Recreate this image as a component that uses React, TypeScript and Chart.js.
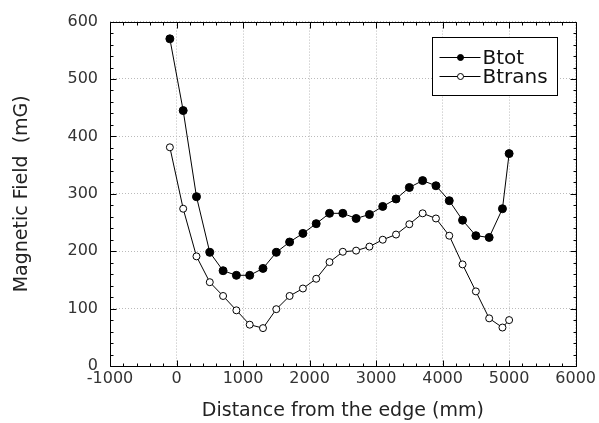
import React, { useEffect, useRef } from "react";
import { Chart, registerables } from "chart.js";

Chart.register(...registerables);

// ---- data ----
const distances = [-100, 100, 300, 500, 700, 900, 1100, 1300, 1500, 1700, 1900, 2100, 2300, 2500, 2700, 2900, 3100, 3300, 3500, 3700, 3900, 4100, 4300, 4500, 4700, 4900, 5000];
const btot = [570, 445, 295, 198, 166, 158, 158, 170, 198, 216, 231, 248, 266, 266, 257, 264, 278, 291, 311, 323, 314, 288, 254, 227, 224, 274, 370];
const btrans = [381, 274, 191, 146, 122, 97, 72, 66, 99, 122, 135, 152, 181, 199, 201, 208, 220, 229, 247, 266, 257, 227, 177, 130, 83, 67, 80];
const seriesNames = ["Btot", "Btrans"];
const xRange = [-1000, 6000];
const xStep = 1000;
const xMinorStep = 200;
const yRange = [0, 600];
const yStep = 100;
const yMinorStep = 20;
const xTitle = "Distance from the edge (mm)";
const yTitle = "Magnetic Field  (mG)";

const FONT = "'DejaVu Sans', sans-serif";

const framePlugin = {
  id: "frameTicks",
  afterDraw(chart: any) {
    const { ctx, chartArea } = chart;
    const { left, right, top, bottom } = chartArea;
    const xs = chart.scales.x;
    const ys = chart.scales.y;
    ctx.save();
    ctx.strokeStyle = "#000";
    ctx.lineWidth = 1;
    ctx.setLineDash([]);
    const L = Math.round(left) + 0.5;
    const R = Math.round(right) + 0.5;
    const T = Math.round(top) + 0.5;
    const B = Math.round(bottom) + 0.5;
    ctx.beginPath();
    ctx.rect(L, T, R - L, B - T);
    ctx.stroke();
    ctx.beginPath();
    const nx = Math.round((xRange[1] - xRange[0]) / xMinorStep);
    for (let i = 0; i <= nx; i++) {
      const v = xRange[0] + i * xMinorStep;
      const px = Math.round(xs.getPixelForValue(v)) + 0.5;
      const major = (v - xRange[0]) % xStep === 0;
      const len = major ? 6 : 3;
      ctx.moveTo(px, B);
      ctx.lineTo(px, B - len);
      ctx.moveTo(px, T);
      ctx.lineTo(px, T + len);
    }
    const ny = Math.round((yRange[1] - yRange[0]) / yMinorStep);
    for (let i = 0; i <= ny; i++) {
      const v = yRange[0] + i * yMinorStep;
      const py = Math.round(ys.getPixelForValue(v)) + 0.5;
      const major = (v - yRange[0]) % yStep === 0;
      const len = major ? 6 : 3;
      ctx.moveTo(L, py);
      ctx.lineTo(L + len, py);
      ctx.moveTo(R, py);
      ctx.lineTo(R - len, py);
    }
    ctx.stroke();

    // legend
    const bx = Math.round(right) - 144 + 0.5;
    const by = Math.round(top) + 15 + 0.5;
    const bw = 125;
    const bh = 58;
    ctx.fillStyle = "#fff";
    ctx.fillRect(bx, by, bw, bh);
    ctx.strokeRect(bx, by, bw, bh);
    const rows = [
      { name: seriesNames[0], fill: "#000" },
      { name: seriesNames[1], fill: "#fff" },
    ];
    rows.forEach((r, i) => {
      const cy = Math.round(by + 19 + i * 19.5) + 0.5;
      ctx.beginPath();
      ctx.moveTo(bx + 7, cy);
      ctx.lineTo(bx + 48, cy);
      ctx.stroke();
      ctx.beginPath();
      ctx.arc(bx + 28, cy, 3, 0, Math.PI * 2);
      ctx.fillStyle = r.fill;
      ctx.fill();
      ctx.stroke();
      ctx.fillStyle = "#111";
      ctx.font = `20px ${FONT}`;
      ctx.textBaseline = "middle";
      ctx.textAlign = "left";
      ctx.fillText(r.name, bx + 50, cy + 1);
    });
    ctx.restore();
  },
};

export default function App() {
  const ref = useRef<HTMLCanvasElement | null>(null);
  useEffect(() => {
    document.body.style.margin = "0";
    const canvas = ref.current;
    if (!canvas) return;
    const chart = new Chart(canvas, {
      type: "line",
      data: {
        datasets: [
          {
            label: seriesNames[0],
            data: distances.map((d, i) => ({ x: d, y: btot[i] })),
            borderColor: "#000",
            borderWidth: 1,
            pointRadius: 4,
            pointBackgroundColor: "#000",
            pointBorderColor: "#000",
            pointBorderWidth: 1,
            tension: 0,
          },
          {
            label: seriesNames[1],
            data: distances.map((d, i) => ({ x: d, y: btrans[i] })),
            borderColor: "#000",
            borderWidth: 1,
            pointRadius: 3.5,
            pointBackgroundColor: "#fff",
            pointBorderColor: "#000",
            pointBorderWidth: 1,
            tension: 0,
          },
        ],
      },
      options: {
        animation: false,
        responsive: false,
        devicePixelRatio: 1,
        layout: { padding: { top: 20, right: 23, left: 0, bottom: 0 } },
        plugins: { legend: { display: false }, tooltip: { enabled: false } },
        scales: {
          x: {
            type: "linear",
            min: xRange[0],
            max: xRange[1],
            ticks: {
              stepSize: xStep,
              callback: (v: any) => String(v),
              font: { family: FONT, size: 16 },
              color: "#333",
              padding: 3,
              maxRotation: 0,
            },
            grid: { color: "#bbb", drawTicks: false, lineWidth: 1 },
            border: { display: false, dash: [1, 2] },
            title: {
              display: true,
              text: xTitle,
              font: { family: FONT, size: 19 },
              color: "#222",
              padding: { top: 0, bottom: 1 },
            },
            afterFit: (s: any) => {
              s.height = 57;
            },
          },
          y: {
            type: "linear",
            min: yRange[0],
            max: yRange[1],
            ticks: {
              stepSize: yStep,
              callback: (v: any) => String(v),
              font: { family: FONT, size: 16 },
              color: "#333",
              padding: 12,
            },
            grid: { color: "#bbb", drawTicks: false, lineWidth: 1 },
            border: { display: false, dash: [1, 2] },
            title: {
              display: true,
              text: yTitle,
              font: { family: FONT, size: 19 },
              color: "#222",
              padding: { top: 11, bottom: 0 },
            },
            afterFit: (s: any) => {
              s.width = 110;
            },
          },
        },
      },
      plugins: [framePlugin],
    } as any);
    return () => chart.destroy();
  }, []);
  return (
    <div style={{ position: "absolute", left: 0, top: 0, width: 599, height: 423 }}>
      <canvas ref={ref} width={599} height={423} style={{ width: 599, height: 423 }} />
    </div>
  );
}
